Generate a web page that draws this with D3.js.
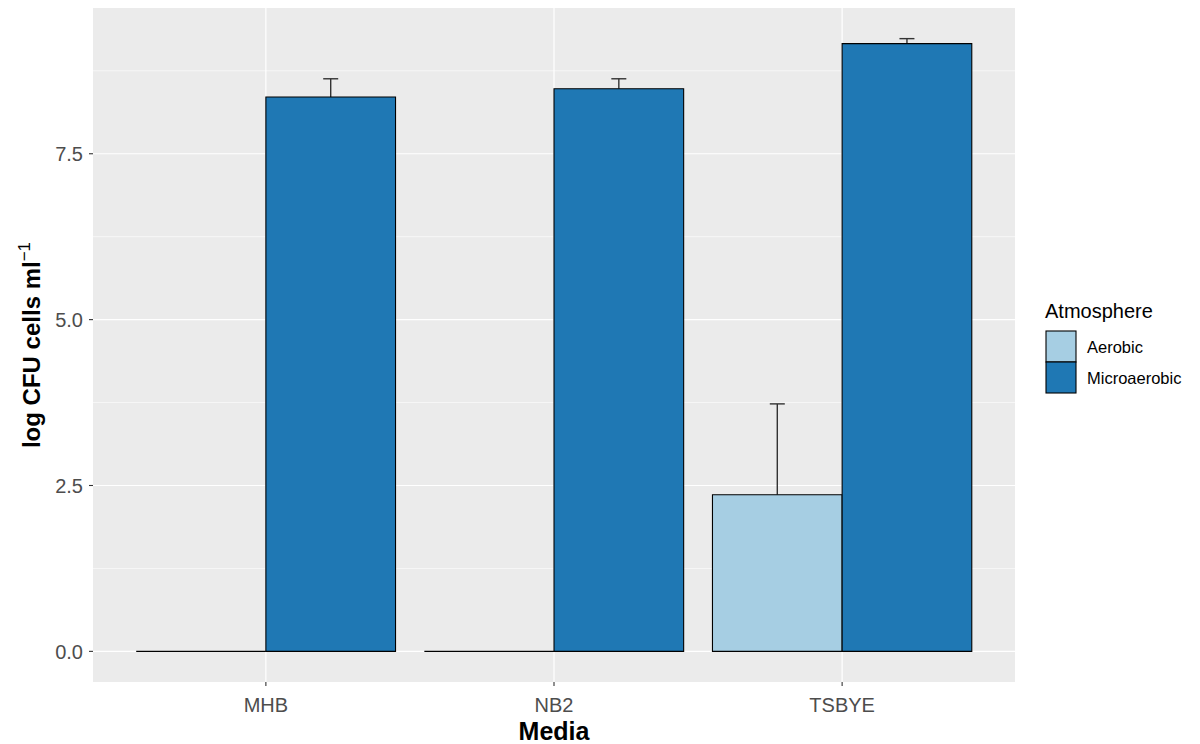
<!DOCTYPE html>
<html><head><meta charset="utf-8">
<script src="https://cdn.jsdelivr.net/npm/d3@7"></script>
<style>body{margin:0;background:#fff}svg{display:block;font-family:"Liberation Sans",Arial,sans-serif}</style>
</head><body><svg id="c" width="1200" height="744"></svg>
<script>
const media = ["MHB", "NB2", "TSBYE"];
const atmospheres = ["Aerobic", "Microaerobic"];
const colors = ["#A6CEE3", "#1F78B4"];
const aerobicMean = [0, 0, 2.36];
const aerobicUpper = [0, 0, 3.73];
const microMean = [8.355, 8.48, 9.16];
const microUpper = [8.63, 8.63, 9.235];
const yTicks = [0, 2.5, 5.0, 7.5];
const yMinor = [1.25, 3.75, 6.25, 8.75];

const data = [];
media.forEach((m, i) => {
  data.push({media: m, atm: "Aerobic", mean: aerobicMean[i], upper: aerobicUpper[i]});
  data.push({media: m, atm: "Microaerobic", mean: microMean[i], upper: microUpper[i]});
});

const svg = d3.select("#c");
const L = 93, R = 1015, T = 8, B = 682;
const ymax = d3.max(data, d => d.upper);
const span = ymax - 0;
const y = d3.scaleLinear().domain([0 - span * 0.05, ymax + span * 0.05]).range([B, T]);
const xc = d3.scaleLinear().domain([0.4, 3.6]).range([L, R]);
const unit = xc(1) - xc(0);
const barW = 0.45 * unit;

svg.append("rect").attr("x", L).attr("y", T).attr("width", R - L).attr("height", B - T).attr("fill", "#EBEBEB");
const g = svg.append("g");
yMinor.forEach(v => g.append("line").attr("x1", L).attr("x2", R).attr("y1", y(v)).attr("y2", y(v)).attr("stroke", "#fff").attr("stroke-width", 0.6));
yTicks.forEach(v => g.append("line").attr("x1", L).attr("x2", R).attr("y1", y(v)).attr("y2", y(v)).attr("stroke", "#fff").attr("stroke-width", 1.2));
media.forEach((m, i) => g.append("line").attr("x1", xc(i + 1)).attr("x2", xc(i + 1)).attr("y1", T).attr("y2", B).attr("stroke", "#fff").attr("stroke-width", 1.2));

const col = d3.scaleOrdinal().domain(atmospheres).range(colors);
function bx(d) {
  const i = media.indexOf(d.media);
  const j = atmospheres.indexOf(d.atm);
  return xc(i + 1) - barW + j * barW;
}
// error bars (behind bars)
data.filter(d => d.upper > d.mean).forEach(d => {
  const cx = bx(d) + barW / 2;
  g.append("line").attr("x1", cx).attr("x2", cx).attr("y1", y(d.mean)).attr("y2", y(d.upper)).attr("stroke", "#333").attr("stroke-width", 1.4);
  g.append("line").attr("x1", cx - 7.5).attr("x2", cx + 7.5).attr("y1", y(d.upper)).attr("y2", y(d.upper)).attr("stroke", "#333").attr("stroke-width", 1.4);
});
g.selectAll("path.bar").data(data).enter().append("path")
  .attr("d", d => {
    const x0 = bx(d), y0 = y(d.mean), h = y(0) - y(d.mean);
    return `M${x0},${y0}h${barW}v${h}h${-barW}Z`;
  })
  .attr("fill", d => col(d.atm)).attr("stroke", "#000").attr("stroke-width", 1.1);

// axes
const ax = svg.append("g").attr("fill", "#4D4D4D").attr("font-size", 20);
yTicks.forEach(v => {
  svg.append("line").attr("x1", L - 4).attr("x2", L).attr("y1", y(v)).attr("y2", y(v)).attr("stroke", "#333").attr("stroke-width", 1.1);
  ax.append("text").attr("x", L - 10).attr("y", y(v)).attr("dy", "0.36em").attr("text-anchor", "end").text(d3.format(".1f")(v));
});
media.forEach((m, i) => {
  svg.append("line").attr("x1", xc(i + 1)).attr("x2", xc(i + 1)).attr("y1", B).attr("y2", B + 4).attr("stroke", "#333").attr("stroke-width", 1.1);
  ax.append("text").attr("x", xc(i + 1)).attr("y", 712).attr("text-anchor", "middle").text(m);
});
svg.append("text").attr("x", (L + R) / 2).attr("y", 740).attr("text-anchor", "middle").attr("font-size", 25).attr("font-weight", "bold").text("Media");
const yt = svg.append("text").attr("transform", `translate(40,${(T + B) / 2}) rotate(-90)`).attr("text-anchor", "middle").attr("font-size", 24).attr("font-weight", "bold");
yt.append("tspan").text("log CFU cells ml");
yt.append("tspan").attr("dy", -10).attr("font-size", 17).attr("font-weight", "normal").text("\u22121");

// legend
const lg = svg.append("g");
lg.append("text").attr("x", 1045).attr("y", 318).attr("font-size", 20).attr("fill", "#000").text("Atmosphere");
atmospheres.forEach((a, i) => {
  const yy = 331 + i * 31;
  lg.append("rect").attr("x", 1046).attr("y", yy).attr("width", 30).attr("height", 31).attr("fill", colors[i]).attr("stroke", "#000").attr("stroke-width", 1.1);
  lg.append("text").attr("x", 1087).attr("y", yy + 22).attr("font-size", 16.5).attr("fill", "#000").text(a);
});
</script></body></html>
